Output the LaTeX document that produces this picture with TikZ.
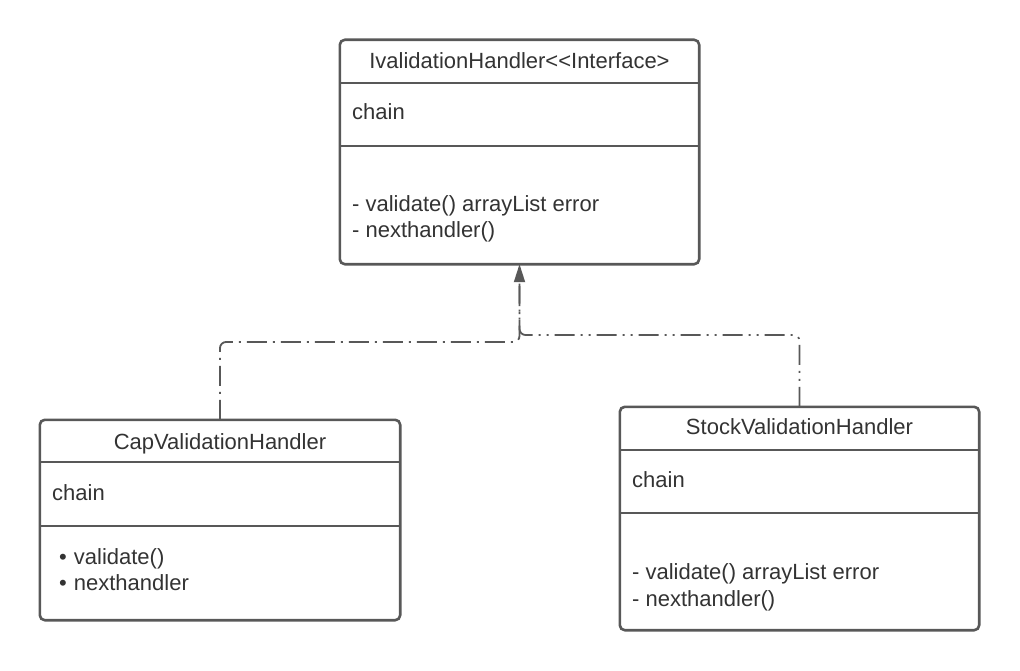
\documentclass[tikz,border=0pt]{standalone}
\usepackage{fontspec}
\setmainfont{Liberation Sans}
\usetikzlibrary{arrows.meta}
\definecolor{linegray}{HTML}{585858}
\definecolor{textgray}{HTML}{333333}
\begin{document}
\begin{tikzpicture}[x=1pt,y=-1pt,
  umlbox/.style={draw=linegray, line width=2.6pt, rounded corners=5pt, inner sep=0pt, fill=white},
  divider/.style={draw=linegray, line width=2.6pt},
  title/.style={anchor=base, text=textgray, font=\fontsize{22}{26}\selectfont, inner sep=0pt},
  txt/.style={anchor=base west, text=textgray, font=\fontsize{22}{26}\selectfont, inner sep=0pt},
  conn/.style={draw=linegray, line width=1.8pt, rounded corners=6pt},
  dashdotleft/.style={dash pattern=on 20pt off 6pt on 2pt off 6pt},
  dashdotright/.style={dash pattern=on 20pt off 6pt on 2pt off 6pt on 2pt off 6pt},
  tip/.style={-{Triangle[length=18pt,width=11pt]}}]
\useasboundingbox (0,0) rectangle (1020,671);
\fill[white] (0,0) rectangle (1020,671);

% connectors
\coordinate (jl) at (519.5,342);
\coordinate (jr) at (519.5,335);
\node[minimum width=359pt, minimum height=224pt, inner sep=0pt] (top) at (519.5,152) {};
\node[minimum width=360pt, minimum height=200pt, inner sep=0pt] (cap) at (220,520) {};
\node[minimum width=359pt, minimum height=223pt, inner sep=0pt] (stock) at (799.5,518.5) {};
\draw[conn, dashdotright] (stock.north) |- (jr) -- (top.south);
\draw[conn, dashdotleft, tip] (cap.north) |- (jl) -- (top.south);

% top box
\path[umlbox] (top.north west) rectangle (top.south east);
\draw[divider] (340,83) -- (699,83);
\draw[divider] (340,146) -- (699,146);
\node[title] (toptitle) at (519.5,69) {IvalidationHandler<{}<Interface>};
\node[txt] (topattr) at (352,120) {chain};
\node[txt] (topm1) at (352,212) {- validate() arrayList error};
\node[txt] (topm2) at (352,238) {- nexthandler()};

% cap box
\path[umlbox] (cap.north west) rectangle (cap.south east);
\draw[divider] (40,462) -- (400,462);
\draw[divider] (40,526) -- (400,526);
\node[title] (captitle) at (220,449) {CapValidationHandler};
\node[txt] (capattr) at (52,500) {chain};
\node[txt] (capm1) at (59,564) {•\hspace{7pt}validate()};
\node[txt] (capm2) at (59,590) {•\hspace{7pt}nexthandler};

% stock box
\path[umlbox] (stock.north west) rectangle (stock.south east);
\draw[divider] (620,450) -- (979,450);
\draw[divider] (620,513) -- (979,513);
\node[title] (stocktitle) at (799.5,434) {StockValidationHandler};
\node[txt] (stockattr) at (632,487) {chain};
\node[txt] (stockm1) at (632,579) {- validate() arrayList error};
\node[txt] (stockm2) at (632,606) {- nexthandler()};
\end{tikzpicture}
\end{document}
